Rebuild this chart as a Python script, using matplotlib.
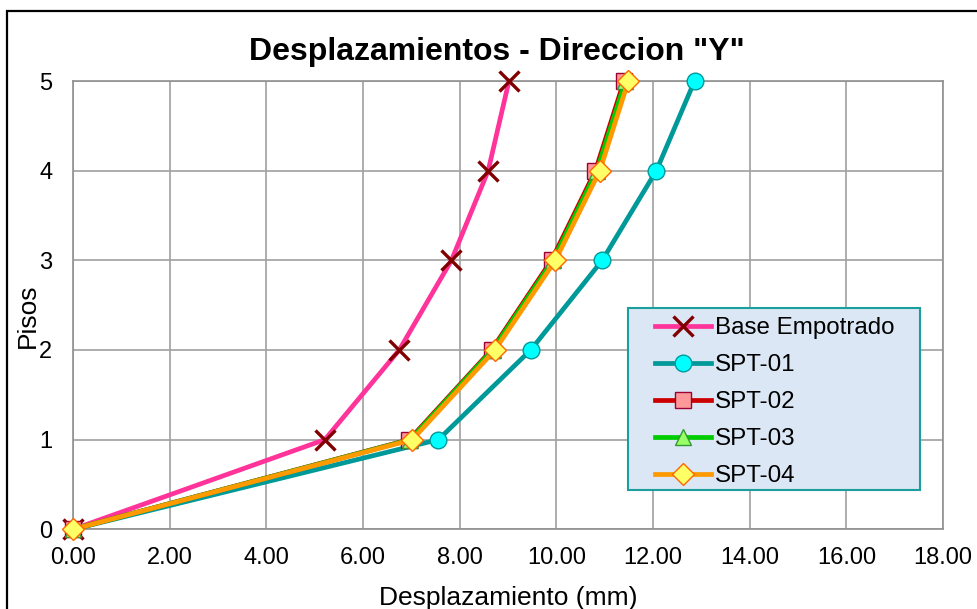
import matplotlib
matplotlib.use("Agg")
import matplotlib.pyplot as plt
from matplotlib.patches import Rectangle

plt.rcParams['font.family'] = ['Liberation Sans', 'DejaVu Sans']

pisos = [0, 1, 2, 3, 4, 5]
base_empotrado = [0.00, 5.21, 6.75, 7.83, 8.59, 9.02]
spt01 = [0.00, 7.56, 9.47, 10.95, 12.07, 12.86]
spt02 = [0.00, 6.96, 8.66, 9.90, 10.81, 11.40]
spt03 = [0.00, 6.98, 8.68, 9.93, 10.84, 11.43]
spt04 = [0.00, 7.02, 8.73, 9.98, 10.90, 11.49]

series_labels = ["Base Empotrado", "SPT-01", "SPT-02", "SPT-03", "SPT-04"]
x_ticks = [0, 2, 4, 6, 8, 10, 12, 14, 16, 18]
y_ticks = [0, 1, 2, 3, 4, 5]

fig = plt.figure(figsize=(9.77, 6.09), dpi=100)
fig.patches.append(Rectangle((7/977, -0.1), 1.0, 1.1 - 11/609,
                             transform=fig.transFigure, fill=False,
                             edgecolor='black', linewidth=1.6, zorder=0))
ax = fig.add_axes([73/977, 1 - 529.3/609, (943 - 73)/977, (529.3 - 81)/609])

lw = 3.4
ax.plot(base_empotrado, pisos, color='#ff3399', lw=lw, marker='x', ms=14,
        mec='#800000', mew=2.4, label=series_labels[0], zorder=3, clip_on=False)
ax.plot(spt01, pisos, color='#009999', lw=lw, marker='o', ms=12,
        mfc='#00ffff', mec='#009999', mew=1.0, label=series_labels[1], zorder=3, clip_on=False)
ax.plot(spt02, pisos, color='#cc0000', lw=lw, marker='s', ms=11,
        mfc='#ff9999', mec='#990033', mew=1.0, label=series_labels[2], zorder=3, clip_on=False)
ax.plot(spt03, pisos, color='#00cc00', lw=lw, marker='^', ms=11.5,
        mfc='#99ff66', mec='#339933', mew=1.0, label=series_labels[3], zorder=3, clip_on=False)
ax.plot(spt04, pisos, color='#ff9900', lw=lw, marker='D', ms=11,
        mfc='#ffff66', mec='#ff6600', mew=1.0, label=series_labels[4], zorder=3, clip_on=False)

ax.set_xlim(0, 18)
ax.set_ylim(0, 5)
ax.set_xticks(x_ticks)
ax.set_xticklabels([f"{v:.2f}" for v in x_ticks])
ax.set_yticks(y_ticks)
ax.set_yticklabels([str(v) for v in y_ticks])
ax.tick_params(axis='both', length=0, labelsize=17)
ax.tick_params(axis='x', pad=13)
ax.tick_params(axis='y', pad=15)
ax.grid(True, color='#a0a0a0', linewidth=1.2)
ax.set_axisbelow(True)
for s in ax.spines.values():
    s.set_color('#909090')
    s.set_linewidth(1.2)

fig.text(497/977, 1 - 52/609, 'Desplazamientos - Direccion "Y"', fontsize=23,
         fontweight='bold', ha='center', va='center')
ax.set_xlabel('Desplazamiento (mm)', fontsize=19, labelpad=12)
ax.set_ylabel('Pisos', fontsize=19)
ax.yaxis.set_label_coords(-0.038, 0.476)

# legend frame
ax.add_patch(Rectangle((0.638, 0.0877), 0.3356, 0.406, transform=ax.transAxes,
                       facecolor='#dbe7f4', edgecolor='#1a9e9e', linewidth=1.5,
                       zorder=4, clip_on=False))
leg = ax.legend(loc='upper left', bbox_to_anchor=(0.669, 0.473), borderaxespad=0,
                fontsize=17.4, handlelength=2.3, handletextpad=0.17,
                labelspacing=0.62, frameon=False, borderpad=0)
leg.set_zorder(5)

fig.savefig('out.png', dpi=100)
